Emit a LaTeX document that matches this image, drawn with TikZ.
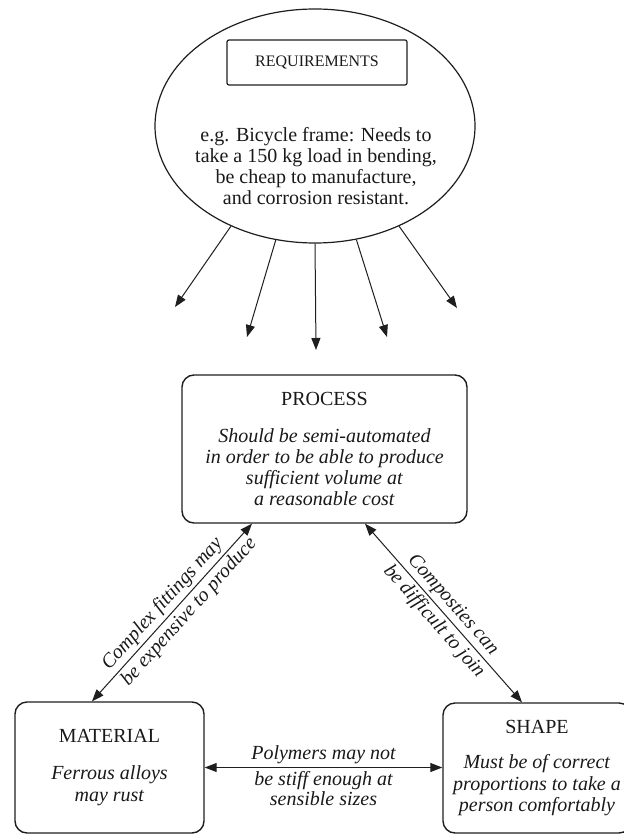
\documentclass[tikz,border=0pt]{standalone}
\usepackage{fontspec}
\setmainfont{Liberation Serif}
\usetikzlibrary{arrows.meta,shapes.geometric,calc}
\definecolor{inkline}{RGB}{30,30,30}
\definecolor{inktext}{RGB}{25,25,25}
\tikzset{
  reqshape/.style={ellipse,draw=inkline,line width=0.6pt,minimum width=160pt,minimum height=117pt,inner sep=0pt},
  titlebox/.style={rectangle,rounded corners=1pt,draw=inkline,line width=0.6pt,minimum width=90pt,minimum height=22.5pt,text=inktext,font=\fontsize{8}{9}\selectfont},
  bodytext/.style={align=center,text=inktext,font=\fontsize{10}{10.4}\selectfont,inner sep=0pt},
  topicbox/.style={rectangle,rounded corners=6pt,draw=inkline,line width=0.7pt,align=center,text=inktext,font=\fontsize{10}{10.6}\selectfont,inner sep=0pt},
  note/.style={align=center,text=inktext,font=\itshape\fontsize{10}{10.4}\selectfont,inner sep=1.5pt},
  spoke/.style={-{Triangle[length=6pt,width=4.5pt]},line width=0.5pt,draw=inkline},
  link/.style={{Triangle[length=6pt,width=4.5pt]}-{Triangle[length=6pt,width=4.5pt]},line width=0.5pt,draw=inkline}
}

\begin{document}
\begin{tikzpicture}[x=0.5pt,y=-0.5pt]
  \useasboundingbox (0,0) rectangle (624,834);

  % requirements bubble
  \node[reqshape] (req) at (315,126) {};
  \node[titlebox] (reqtitle) at (317,62.5) {REQUIREMENTS};
  \node[bodytext] (reqtext) at (316,166) {e.g. Bicycle frame: Needs to\\take a 150 kg load in bending,\\be cheap to manufacture,\\and corrosion resistant.};

  % loose arrows below the bubble
  \coordinate (tipa) at (175,307);
  \coordinate (tipb) at (247,337);
  \coordinate (tipc) at (316,350);
  \coordinate (tipd) at (387,337);
  \coordinate (tipe) at (457,308);
  \foreach \ang/\tip in {230/tipa,251/tipb,270/tipc,290/tipd,310/tipe}
    \draw[spoke] (req.\ang) -- (\tip);

  % the three boxes
  \node[topicbox,minimum width=142.5pt,minimum height=74pt] (proc) at (324.5,449)
    {PROCESS\\[8pt]\textit{Should be semi-automated}\\\textit{in order to be able to produce}\\\textit{sufficient volume at}\\\textit{a reasonable cost}};
  \node[topicbox,minimum width=94.5pt,minimum height=65.5pt] (mat) at (109.5,767.5)
    {MATERIAL\\[8pt]\textit{Ferrous alloys}\\\textit{may rust}};
  \node[topicbox,minimum width=94pt,minimum height=65pt] (shape) at (537,768)
    {SHAPE\\[7pt]\textit{Must be of correct}\\\textit{proportions to take a}\\\textit{person comfortably}};

  % links between them
  \draw[link] ($(mat.north)+(-17.5,0)$) --
    node[note,sloped,above] (costnote) {Complex fittings may}
    node[note,sloped,below,pos=0.55] (costnoteb) {be expensive to produce}
    ($(proc.south)+(-72.5,0)$);
  \draw[link] ($(proc.south)+(40.5,0)$) --
    node[note,sloped,above] (joinnote) {Composties can}
    node[note,sloped,below] (joinnoteb) {be difficult to join}
    ($(shape.north)+(-15,0)$);
  \draw[link] (mat.east) --
    node[note,above] (stiffnote) {Polymers may not}
    node[note,below] (stiffnoteb) {be stiff enough at\\sensible sizes}
    (mat.east -| shape.west);
\end{tikzpicture}
\end{document}
